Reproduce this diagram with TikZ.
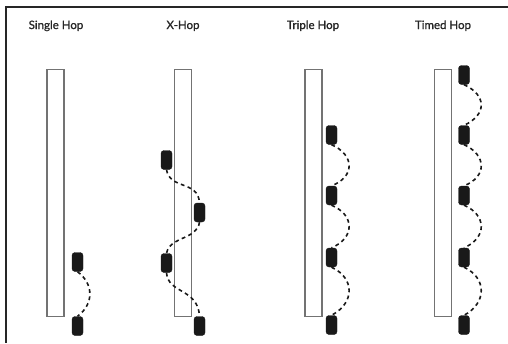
\documentclass[tikz,border=0pt]{standalone}
\usepackage{fontspec}
\setmainfont{Lato}
\newfontfamily\titlefont{Lato}[FakeBold=0.8]
\begin{document}
\begin{tikzpicture}[x=1pt,y=-1pt,
  title/.style={font=\titlefont\fontsize{11.5}{13}\selectfont, text=black!85, anchor=base, inner sep=0pt},
  pole/.style={draw=black!55, line width=1.1pt, fill=white, minimum width=17pt, minimum height=247pt, inner sep=0pt, anchor=north},
  puck/.style={fill=black!90, draw=black!90, rounded corners=3pt, minimum width=11pt, minimum height=19pt, inner sep=0pt},
  hop/.style={dashed, dash pattern=on 3.8pt off 3.4pt, line width=1.6pt, black!90}]
\useasboundingbox (0,0) rectangle (508,343);
\fill[white] (0,0) rectangle (508,343);
% frame edges
\draw[line width=1.2pt, black!85] (5,7) -- (508,7);
\draw[line width=1.2pt, black!85] (6,7) -- (6,343);

% column titles
\node[title] (t1) at (56,29) {Single Hop};
\node[title] (t2) at (183,29) {X-Hop};
\node[title] (t3) at (313,29) {Triple Hop};
\node[title] (t4) at (443,29) {Timed Hop};

% poles
\node[pole] (p1) at (55.5,69) {};
\node[pole] (p2) at (183,69) {};
\node[pole] (p3) at (313.5,69) {};
\node[pole] (p4) at (443,69) {};

% single hop
\node[puck] (a1) at (77.5,262) {};
\node[puck] (a2) at (77.5,326) {};
\draw[hop] (a1.south) .. controls (94,284) and (94,304) .. (a2.north);

% x-hop
\node[puck] (b1) at (166.5,160) {};
\node[puck] (b2) at (199.5,212.5) {};
\node[puck] (b3) at (166.5,263) {};
\node[puck] (b4) at (199.5,326) {};
\draw[hop] (b1.south) .. controls (170,190) and (198,180) .. (b2.north);
\draw[hop] (b2.south) .. controls (197,240) and (170,236) .. (b3.north);
\draw[hop] (b3.south) .. controls (168,294) and (198,288) .. (b4.north);

% triple hop
\node[puck] (c1) at (331.5,135) {};
\node[puck] (c2) at (331.5,195.5) {};
\node[puck] (c3) at (331.5,257.5) {};
\node[puck] (c4) at (331.5,325) {};
\draw[hop] (c1.south) .. controls (355,155) and (355,177) .. (c2.north);
\draw[hop] (c2.south) .. controls (355,215) and (355,238) .. (c3.north);
\draw[hop] (c3.south) .. controls (355,278) and (355,303) .. (c4.north);

% timed hop
\node[puck] (d1) at (464,75) {};
\node[puck] (d2) at (464,135) {};
\node[puck] (d3) at (464,195.5) {};
\node[puck] (d4) at (464,257.5) {};
\node[puck] (d5) at (464,325) {};
\draw[hop] (d1.south) .. controls (487,95) and (487,115) .. (d2.north);
\draw[hop] (d2.south) .. controls (487,155) and (487,177) .. (d3.north);
\draw[hop] (d3.south) .. controls (487,215) and (487,238) .. (d4.north);
\draw[hop] (d4.south) .. controls (487,278) and (487,303) .. (d5.north);
\end{tikzpicture}
\end{document}
